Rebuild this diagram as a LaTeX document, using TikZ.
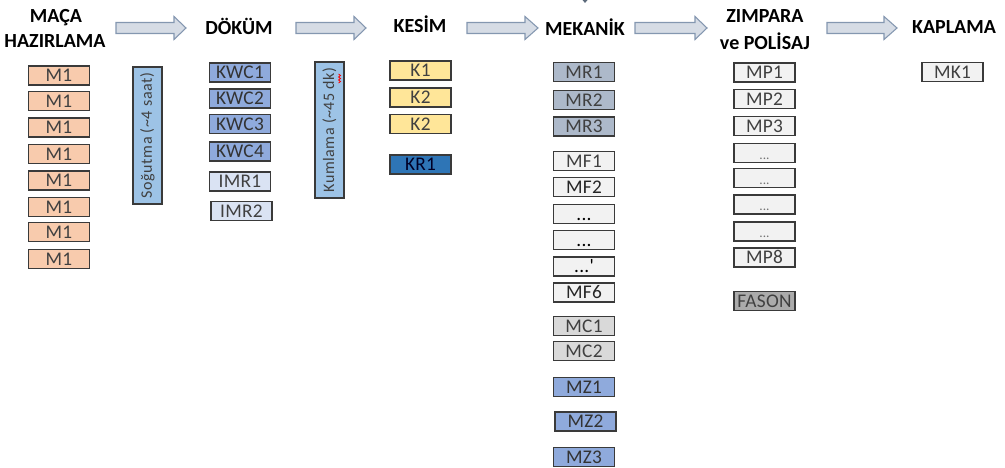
\documentclass[tikz,border=0pt]{standalone}
\usepackage{fontspec}
\setmainfont{Carlito}
\newfontfamily\boxfont[LetterSpace=1.5]{Carlito}
\newfontfamily\rotfont[LetterSpace=3.5]{Carlito}
\definecolor{borderc}{HTML}{3A3A3A}
\definecolor{txtc}{HTML}{404040}
\definecolor{orangec}{HTML}{F8CBAD}
\definecolor{coolc}{HTML}{9DC3E6}
\definecolor{kwcc}{HTML}{8FAADC}
\definecolor{imrc}{HTML}{DAE3F3}
\definecolor{kc}{HTML}{FFE699}
\definecolor{krc}{HTML}{2E75B6}
\definecolor{mrc}{HTML}{ADB9CA}
\definecolor{lightc}{HTML}{F2F2F2}
\definecolor{mcc}{HTML}{D9D9D9}
\definecolor{fasonc}{HTML}{ABABAB}
\definecolor{arrfill}{HTML}{D6DCE5}
\definecolor{arrdraw}{HTML}{8497B0}
\begin{document}
\begin{tikzpicture}[x=0.75pt,y=-0.75pt,
  hdr/.style={font=\fontsize{15}{18}\selectfont\bfseries, text=black, anchor=base, inner sep=0pt},
  box/.style={draw=borderc, line width=1.25pt, minimum width=45.75pt, minimum height=14.25pt,
     inner sep=0pt, text height=9.2pt, text depth=0pt, font=\boxfont\fontsize{14.5}{16}\selectfont, text=txtc},
  mbox/.style={box, fill=orangec},
  kwcbox/.style={box, fill=kwcc, text=black!80},
  imrbox/.style={box, fill=imrc},
  kbox/.style={box, fill=kc},
  krbox/.style={box, fill=krc, text=black!85!blue},
  mrbox/.style={box, fill=mrc},
  lbox/.style={box, fill=lightc},
  mcbox/.style={box, fill=mcc},
  mzbox/.style={box, fill=kwcc, text=black!80},
  fbox/.style={box, fill=fasonc},
  vbox/.style={draw=borderc, line width=1.25pt, fill=coolc, rotate=90, inner sep=0pt,
     minimum height=21.75pt, font=\rotfont\fontsize{12}{14}\selectfont, text=txtc},
  barr/.style={fill=arrfill, draw=arrdraw, line width=0.8pt, line join=miter},
  mdots/.style={text=black},
  pdots/.style={text=black!55, font=\fontsize{10}{12}\selectfont}
]
\useasboundingbox (0,0) rectangle (1005,467);

% block arrows
\newcommand{\blockarrow}[3]{%
  \draw[barr] (#1,22.5) -- (#3,22.5) -- (#3,16.5) -- (#2,28) -- (#3,39.5) -- (#3,33.5) -- (#1,33.5) -- cycle;}
\blockarrow{116}{186}{174}
\blockarrow{296}{366}{354}
\blockarrow{467}{538}{525}
\blockarrow{635}{707}{695}
\blockarrow{827}{897}{884}

% tiny mark at top
\fill[arrdraw!70!black] (582.5,0) -- (587.5,0) -- (585,3) -- cycle;

% headers
\node[hdr] (h1a) at (56,23) {MAÇA};
\node[hdr] (h1b) at (55,48) {HAZIRLAMA};
\node[hdr] (h2) at (239,35) {DÖKÜM};
\node[hdr] (h3) at (420,33) {KESİM};
\node[hdr] (h4) at (585,36) {MEKANİK};
\node[hdr] (h5a) at (765,23) {ZIMPARA};
\node[hdr] (h5b) at (765,50) {ve POLİSAJ};
\node[hdr] (h6) at (954,34) {KAPLAMA};

% MAÇA column
\foreach \y [count=\i] in {75.5,101,127.5,154,180.5,207,232,259}
  \node[mbox] (m\i) at (59,\y) {M1};

% cooling
\node[vbox, minimum width=102.75pt] (sog) at (147.5,135.5) {Soğutma (\textasciitilde4 saat)};

% DÖKÜM column
\node[kwcbox] (kwc1) at (240,72.5) {KWC1};
\node[kwcbox] (kwc2) at (240,98.5) {KWC2};
\node[kwcbox] (kwc3) at (240,124) {KWC3};
\node[kwcbox] (kwc4) at (240,151.5) {KWC4};
\node[imrbox] (imr1) at (240,181.5) {IMR1};
\node[imrbox] (imr2) at (241.5,211) {IMR2};

% sand blasting
\node[vbox, minimum width=102pt] (kum) at (329.5,130) {Kumlama (\textasciitilde45 dk)};
\draw[red, line width=0.6pt] (338.5,74) -- (340.5,75.5) -- (338.5,77) -- (340.5,78.5) -- (338.5,80) -- (340.5,81.5) -- (338.5,83);

% KESİM column
\node[kbox] (k1) at (420.5,70.5) {K1};
\node[kbox] (k2) at (420.5,97.5) {K2};
\node[kbox] (k3) at (420.5,124) {K2};
\node[krbox] (kr1) at (420.5,164.5) {KR1};

% MEKANİK column
\node[mrbox] (mr1) at (584,72) {MR1};
\node[mrbox] (mr2) at (584,100) {MR2};
\node[mrbox] (mr3) at (584,126.5) {MR3};
\node[lbox] (mf1) at (584,161) {MF1};
\node[lbox, text=black!85] (mf2) at (584,187) {MF2};
\node[lbox, mdots] (mf3) at (584,214) {...};
\node[lbox, mdots] (mf4) at (584,240) {...};
\node[lbox, mdots] (mf5) at (584,266.5) {...'};
\node[lbox, text=black!85] (mf6) at (584,292.5) {MF6};
\node[mcbox] (mc1) at (584,326) {MC1};
\node[mcbox] (mc2) at (584,351) {MC2};
\node[mzbox] (mz1) at (584,387) {MZ1};
\node[mzbox] (mz2) at (585.5,421.5) {MZ2};
\node[mzbox] (mz3) at (584,457) {MZ3};

% ZIMPARA column
\node[lbox] (mp1) at (764.5,72.5) {MP1};
\node[lbox] (mp2) at (764.5,99) {MP2};
\node[lbox] (mp3) at (764.5,126) {MP3};
\node[lbox, pdots] (mp4) at (764.5,153) {...};
\node[lbox, pdots] (mp5) at (764.5,178) {...};
\node[lbox, pdots] (mp6) at (764.5,204.5) {...};
\node[lbox, pdots] (mp7) at (764.5,231.5) {...};
\node[lbox] (mp8) at (764.5,257.5) {MP8};
\node[fbox] (fason) at (764.5,301) {FASON};

% KAPLAMA column
\node[lbox] (mk1) at (952.5,72) {MK1};
\end{tikzpicture}
\end{document}
